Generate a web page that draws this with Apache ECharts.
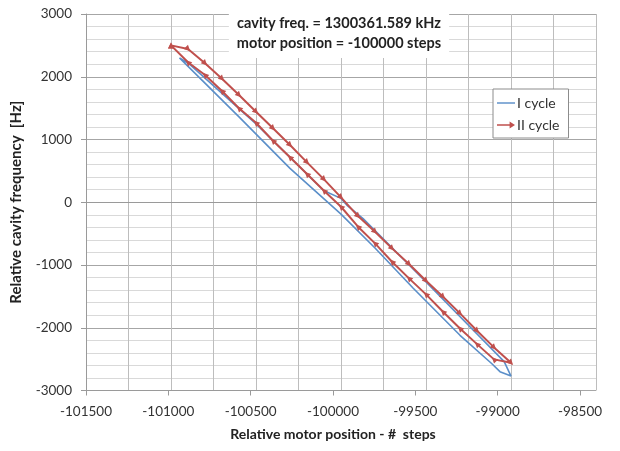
<!DOCTYPE html>
<html>
<head>
<meta charset="utf-8">
<script src="https://cdn.jsdelivr.net/npm/echarts@6/dist/echarts.min.js"></script>
<style>
html,body{margin:0;padding:0;background:#fff;}
#chart{width:620px;height:451px;}
</style>
</head>
<body>
<div id="chart"></div>
<script>
// ---- data ----
const xTicksLabel = [-101500, -101000, -100500, -100000, -99500, -99000, -98500];
const yTicksLabel = [-3000, -2000, -1000, 0, 1000, 2000, 3000];

// II cycle: down along the upper branch, then back along the lower branch
const redDownX = [-101000, -100900, -100800, -100700, -100600, -100500, -100400, -100300, -100200, -100100, -100000,
                  -99900, -99800, -99700, -99600, -99500, -99400, -99300, -99200, -99100, -99000];
const redDownY = [2500, 2442, 2214, 1969, 1709, 1443, 1178, 912, 636, 365, 78,
                  -220, -470, -735, -985, -1251, -1506, -1771, -2048, -2313, -2558];
const redUpX = [-99000, -99100, -99200, -99300, -99400, -99500, -99600, -99700, -99800, -99900, -100000,
                -100100, -100200, -100300, -100400, -100500, -100600, -100700, -100800, -100900, -101000];
const redUpY = [-2610, -2504, -2261, -2011, -1745, -1468, -1213, -948, -655, -390, -72,
                183, 450, 716, 980, 1266, 1497, 1773, 2028, 2230, 2500];

// I cycle (no markers)
const blueX = [-100950, -100600, -100300, -100000, -99800, -99575, -99300, -99114, -99065, -99000,
               -99040, -99500, -99870, -99966, -100000, -100100, -100500, -100900, -100950];
const blueY = [2300, 1360, 540, -190, -730, -1370, -2120, -2570, -2700, -2770,
               -2540, -1270, -260, -44, 62, 183, 1250, 2220, 2300];

const zip = (xs, ys) => xs.map((x, i) => [x, ys[i]]);
const redData = zip(redDownX, redDownY).concat(zip(redUpX, redUpY).slice(1));
const blueData = zip(blueX, blueY);
const nDown = redDownX.length;

const FONT = 'Lato';
const plain = v => String(v);
const chart = echarts.init(document.getElementById('chart'), null, {renderer: 'canvas'});
chart.setOption({
  animation: false,
  backgroundColor: '#fff',
  textStyle: {fontFamily: FONT},
  title: {
    text: 'cavity freq. = 1300361.589 kHz\nmotor position = -100000 steps',
    left: 331, top: 11, textAlign: 'center',
    backgroundColor: '#fff', padding: [2, 8, 5, 8],
    textStyle: {fontFamily: FONT, fontSize: 14.5, fontWeight: 'bold', color: '#222', lineHeight: 20}
  },
  legend: {
    orient: 'vertical', left: 493, top: 89,
    padding: [7, 9, 6, 4], itemGap: 8, itemWidth: 18, itemHeight: 8,
    borderColor: '#8c8c8c', borderWidth: 1, backgroundColor: '#fff',
    textStyle: {fontFamily: FONT, fontSize: 14, color: '#333', padding: [0, 0, 0, -3]},
    data: [
      {name: 'I cycle', icon: 'path://M0,0 L20,0 L20,1.6 L0,1.6 Z'},
      {name: 'II cycle', icon: 'path://M0,3.2 L14,3.2 L14,0 L20,4 L14,8 L14,4.8 L0,4.8 Z'}
    ]
  },
  grid: [
    {left: 86, top: 14, width: 510, height: 376.5},
    {left: 86, top: 14, width: 494, height: 376.5}
  ],
  xAxis: [
    {type: 'value', gridIndex: 0, min: -101500, max: -98500, interval: 250,
     axisLabel: {show: false}, axisTick: {show: false},
     axisLine: {show: true, lineStyle: {color: '#9a9a9a'}},
     splitLine: {show: true, lineStyle: {color: '#bdbdbd', width: 1}}},
    {type: 'value', gridIndex: 1, min: xTicksLabel[0], max: xTicksLabel[xTicksLabel.length - 1], interval: 500,
     axisLine: {show: true, onZero: false, lineStyle: {color: '#9a9a9a'}},
     axisTick: {show: true, length: 5, lineStyle: {color: '#9a9a9a'}},
     axisLabel: {show: true, margin: 14, fontFamily: FONT, fontSize: 13.5, color: '#333', formatter: plain},
     splitLine: {show: false},
     name: 'Relative motor position - #  steps', nameLocation: 'middle', nameGap: 37,
     nameTextStyle: {fontFamily: FONT, fontSize: 14, fontWeight: 'bold', color: '#222'}}
  ],
  yAxis: [
    {type: 'value', gridIndex: 0, min: yTicksLabel[0], max: yTicksLabel[yTicksLabel.length - 1], interval: 1000,
     axisLine: {show: true, onZero: false, lineStyle: {color: '#9a9a9a'}},
     axisTick: {show: true, length: 5, lineStyle: {color: '#9a9a9a'}},
     axisLabel: {show: true, margin: 14, fontFamily: FONT, fontSize: 13.5, color: '#333', formatter: plain},
     splitLine: {show: true, lineStyle: {color: '#a6a6a6', width: 1}},
     minorTick: {show: false, splitNumber: 5},
     minorSplitLine: {show: true, lineStyle: {color: '#d9d9d9', width: 1}},
     name: 'Relative cavity frequency  [Hz]', nameLocation: 'middle', nameGap: 62, nameRotate: 90,
     nameTextStyle: {fontFamily: FONT, fontSize: 15, fontWeight: 'bold', color: '#222'}},
    {type: 'value', gridIndex: 1, min: -3000, max: 3000, interval: 1000, show: false}
  ],
  series: [
    {name: 'I cycle', type: 'line', xAxisIndex: 0, yAxisIndex: 0, data: blueData,
     showSymbol: false, symbol: 'none', z: 2,
     lineStyle: {color: '#5b8fc9', width: 1.6}, itemStyle: {color: '#5b8fc9'}},
    {name: 'II cycle', type: 'line', xAxisIndex: 0, yAxisIndex: 0, data: redData,
     symbol: 'triangle', symbolSize: 6, z: 3,
     symbolRotate: (v, p) => (p.dataIndex === 0 || p.dataIndex === redData.length - 1) ? 0 : (p.dataIndex < nDown ? -135 : 45),
     lineStyle: {color: '#c0504d', width: 2}, itemStyle: {color: '#c0504d'}}
  ]
});
</script>
</body>
</html>
